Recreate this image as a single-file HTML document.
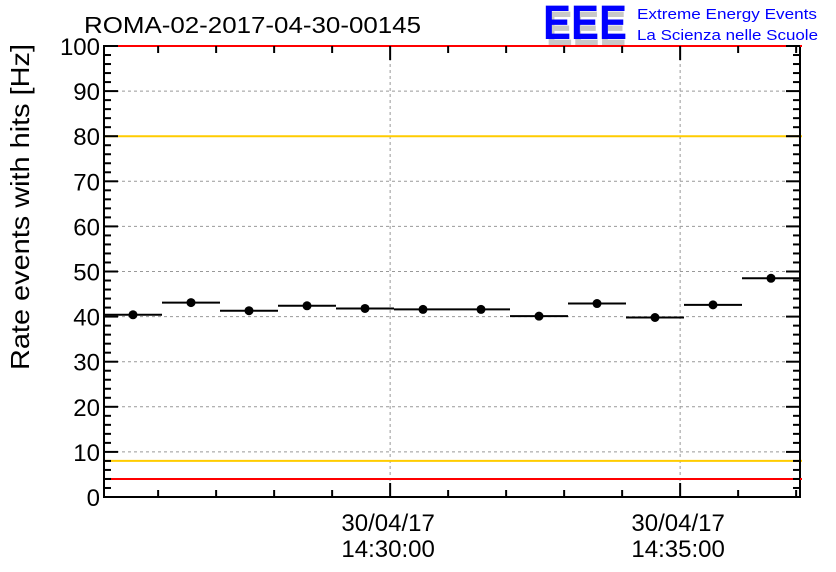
<!DOCTYPE html>
<html><head><meta charset="utf-8"><style>
body{margin:0;background:#fff}
svg{display:block;font-family:"Liberation Sans",sans-serif}
</style></head><body>
<svg id="chart" width="836" height="572" viewBox="0 0 836 572">
<text x="84" y="33" font-size="23" fill="#000" textLength="337" lengthAdjust="spacingAndGlyphs">ROMA-02-2017-04-30-00145</text>
<g>
<text x="546" y="45" font-size="48" font-weight="bold" fill="#c8c8c8" textLength="80" lengthAdjust="spacingAndGlyphs">EEE</text>
<text x="543" y="39" font-size="48" font-weight="bold" fill="#0000ff" textLength="84" lengthAdjust="spacingAndGlyphs">EEE</text>
<text x="637" y="19" font-size="15" fill="#0000ff" textLength="180" lengthAdjust="spacingAndGlyphs">Extreme Energy Events</text>
<text x="637" y="40" font-size="15" fill="#0000ff" textLength="181" lengthAdjust="spacingAndGlyphs">La Scienza nelle Scuole</text>
</g>
<text transform="translate(29,207) rotate(-90)" text-anchor="middle" font-size="26" textLength="326" lengthAdjust="spacingAndGlyphs">Rate events with hits [Hz]</text>
<g id="grid"></g><g id="lines"></g><g id="marks"></g><g id="axes"></g>
</svg>
<script>
const binStartSeconds = 4; // seconds after 14:25:00
const binWidthSeconds = 60;
const rates = [40.4, 43.1, 41.3, 42.4, 41.8, 41.6, 41.6, 40.1, 42.9, 39.8, 42.6, 48.5];
const yTicks = [0,10,20,30,40,50,60,70,80,90,100];
const xLabelMinutes = [30, 35];
const xLabels = [["30/04/17","14:30:00"],["30/04/17","14:35:00"]];
const redLimits = [100, 4];
const orangeLimits = [80, 8];

const L=104,R=800,T=46,B=497;
const tMin=binStartSeconds, tMax=binStartSeconds+rates.length*binWidthSeconds;
const xs=s=>L+(s-tMin)/(tMax-tMin)*(R-L);
const xm=m=>xs((m-25)*60);
const ys=v=>B-v/100*(B-T);
const NS="http://www.w3.org/2000/svg";
function mk(tag,attrs,parent){const e=document.createElementNS(NS,tag);for(const k in attrs)e.setAttribute(k,attrs[k]);document.getElementById(parent).appendChild(e);return e;}

yTicks.forEach(v=>{if(v>0&&v<100){const g=mk('line',{x1:L,x2:R,y1:ys(v),y2:ys(v),stroke:'#999','stroke-dasharray':'3,3'},'grid');

}});
xLabelMinutes.forEach(m=>{const x=xm(m);const g=mk('line',{x1:x,x2:x,y1:T,y2:B,stroke:'#999','stroke-dasharray':'3,3'},'grid');

});

orangeLimits.forEach(v=>{const l=mk('line',{x1:L,x2:R+2,y1:ys(v),y2:ys(v),stroke:'#ffcc00','stroke-width':2},'lines');

});

rates.forEach((v,i)=>{
const s0=binStartSeconds+i*binWidthSeconds, s1=s0+binWidthSeconds;
const y=ys(v);
const h=mk('line',{x1:xs(s0),x2:xs(s1),y1:y,y2:y,stroke:'#000','stroke-width':2},'marks');


const c=mk('circle',{cx:xs((s0+s1)/2),cy:y,r:4.5,fill:'#000'},'marks');


});

const f=mk('rect',{x:L,y:T,width:R-L,height:B-T,fill:'none',stroke:'#000','stroke-width':2},'axes');


redLimits.forEach(v=>{const l=mk('line',{x1:L,x2:R+2,y1:ys(v),y2:ys(v),stroke:'#ff0000','stroke-width':2},'axes');

});
for(let v=0;v<=100;v+=2){const y=ys(v);const len=v%10===0?14:7;
mk('line',{x1:L,x2:L+len,y1:y,y2:y,stroke:'#000','stroke-width':2},'axes');
mk('line',{x1:R-len,x2:R,y1:y,y2:y,stroke:'#000','stroke-width':2},'axes');}
yTicks.forEach(v=>{const t=mk('text',{x:L-4,y:ys(v)+9,'text-anchor':'end','font-size':24},'axes');t.textContent=v;

});
for(let m=26;m<=37;m++){const x=xm(m);if(x>R+1)continue;const major=xLabelMinutes.includes(m);const len=major?14:7;
mk('line',{x1:x,x2:x,y1:B,y2:B-len,stroke:'#000','stroke-width':2},'axes');
mk('line',{x1:x,x2:x,y1:T,y2:T+len,stroke:'#000','stroke-width':2},'axes');}
xLabelMinutes.forEach((m,i)=>{const x=xm(m);
const t1=mk('text',{x:x-2,y:531,'text-anchor':'middle','font-size':24},'axes');t1.textContent=xLabels[i][0];


const t2=mk('text',{x:x-2,y:557,'text-anchor':'middle','font-size':24},'axes');t2.textContent=xLabels[i][1];

});
</script>
</body></html>
